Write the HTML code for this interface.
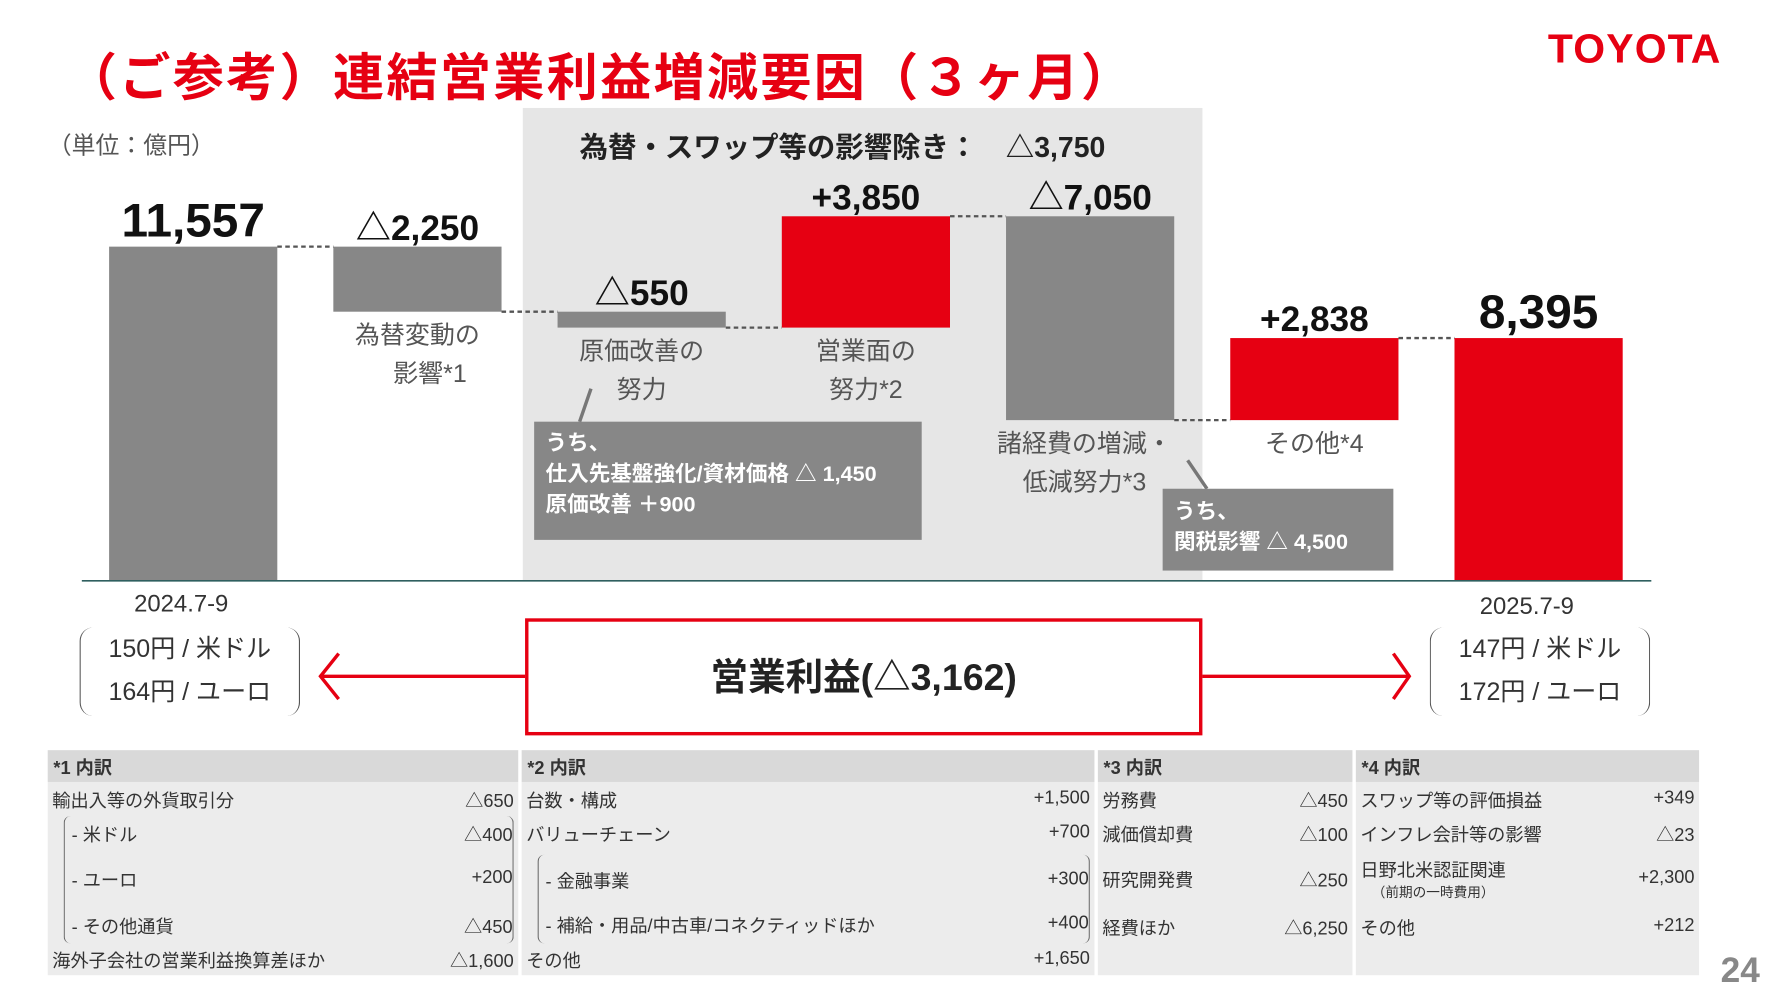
<!DOCTYPE html>
<html><head><meta charset="utf-8">
<style>
html,body{margin:0;padding:0;background:#fff;width:1782px;height:1002px;overflow:hidden}
#wrap{position:absolute;left:0;top:0;width:1560px;height:880px;transform:scale(1.1365,1.1366);transform-origin:0 0;font-family:"Liberation Sans","Noto Sans CJK JP",sans-serif}
.abs{position:absolute;white-space:nowrap}
table{border-collapse:separate;border-spacing:3px 0;font-size:16px;color:#333}
.r{display:flex;justify-content:space-between;align-items:center}
</style></head><body>
<div id="wrap">
<div class="abs" style="left:58px;top:32px;font-size:45px;font-weight:bold;color:#e60012;letter-spacing:2px">（ご参考）連結営業利益増減要因（３ヶ月）</div>
<div class="abs" style="left:1362px;top:22px;font-size:36px;font-weight:bold;color:#e60012;letter-spacing:1px">TOYOTA</div>
<div class="abs" style="left:460px;top:95px;width:598px;height:416px;background:#e6e6e6"></div>
<div class="abs" style="left:42px;top:112px;font-size:21px;color:#555">（単位：億円）</div>
<div class="abs" style="left:510px;top:110px;font-size:25px;font-weight:bold;color:#222">為替・スワップ等の影響除き：　△3,750</div>
<svg id="chart" class="abs" style="left:0;top:0" width="1560" height="880"></svg>
<div class="abs" style="left:470px;top:371px;width:331px;height:94px;background:#878787;color:#fff;font-size:19px;line-height:27px;padding:6px 0 4px 10px;font-weight:bold">うち、<br>仕入先基盤強化/資材価格 △ 1,450<br>原価改善 ＋900</div>
<div class="abs" style="left:1023px;top:430px;width:193px;height:62px;background:#878787;color:#fff;font-size:19px;line-height:27px;padding:7px 0 3px 10px;font-weight:bold">うち、<br>関税影響 △ 4,500</div>
<div class="abs" style="left:118px;top:520px;font-size:21px;color:#333">2024.7-9</div>
<div class="abs" style="left:70px;top:552px;width:192px;height:78px;border-left:1.5px solid #555;border-right:1.5px solid #555;border-radius:12px;font-size:22px;line-height:38px;color:#333;text-align:center">150円 / 米ドル<br>164円 / ユーロ</div>
<div class="abs" style="left:1302px;top:522px;font-size:21px;color:#333">2025.7-9</div>
<div class="abs" style="left:1258px;top:552px;width:192px;height:78px;border-left:1.5px solid #555;border-right:1.5px solid #555;border-radius:12px;font-size:22px;line-height:38px;color:#333;text-align:center">147円 / 米ドル<br>172円 / ユーロ</div>
<div class="abs" style="left:462px;top:544px;width:590px;height:97px;border:3px solid #e60012;font-size:33px;font-weight:bold;color:#222;text-align:center;line-height:97px">営業利益(△3,162)</div>
<svg class="abs" style="left:0;top:0" width="1560" height="660">
<g stroke="#e60012" stroke-width="3" fill="none">
<line x1="462" y1="595" x2="282" y2="595"/><polyline points="298,575 282,595 298,615"/>
<line x1="1058" y1="595" x2="1240" y2="595"/><polyline points="1226,575 1240,595 1226,615"/></g></svg>
<div class="abs" style="left:39px;top:660px">
<table>
<tr style="background:#d9d9d9;font-weight:bold;height:28px"><td style="width:408px;padding-left:5px">*1 内訳</td><td style="width:498px;padding-left:5px">*2 内訳</td><td style="width:218px;padding-left:5px">*3 内訳</td><td style="width:296px;padding-left:5px">*4 内訳</td></tr>
<tr style="background:#ececec"><td style="padding:0 4px">
<div class="r" style="height:30px"><span>輸出入等の外貨取引分</span><span>△650</span></div>
<div style="border-left:1px solid #666;border-right:1px solid #666;margin-left:10px;border-radius:6px">
<div class="r" style="height:30px;padding-left:6px"><span>- 米ドル</span><span>△400</span></div>
<div class="r" style="height:50px;padding-left:6px"><span>- ユーロ</span><span>+200</span></div>
<div class="r" style="height:32px;padding-left:6px"><span>- その他通貨</span><span>△450</span></div></div>
<div class="r" style="height:28px"><span>海外子会社の営業利益換算差ほか</span><span>△1,600</span></div></td>
<td style="padding:0 4px;vertical-align:top">
<div class="r" style="height:30px"><span>台数・構成</span><span>+1,500</span></div>
<div class="r" style="height:30px"><span>バリューチェーン</span><span>+700</span></div>
<div style="border-left:1px solid #666;border-right:1px solid #666;margin-left:10px;border-radius:6px;margin-top:4px">
<div class="r" style="height:44px;padding-left:6px"><span>- 金融事業</span><span>+300</span></div>
<div class="r" style="height:34px;padding-left:6px"><span>- 補給・用品/中古車/コネクティッドほか</span><span>+400</span></div></div>
<div class="r" style="height:28px"><span>その他</span><span>+1,650</span></div></td>
<td style="padding:0 4px;vertical-align:top">
<div class="r" style="height:30px"><span>労務費</span><span>△450</span></div>
<div class="r" style="height:30px"><span>減価償却費</span><span>△100</span></div>
<div class="r" style="height:50px"><span>研究開発費</span><span>△250</span></div>
<div class="r" style="height:34px"><span>経費ほか</span><span>△6,250</span></div></td>
<td style="padding:0 4px;vertical-align:top">
<div class="r" style="height:30px"><span>スワップ等の評価損益</span><span>+349</span></div>
<div class="r" style="height:30px"><span>インフレ会計等の影響</span><span>△23</span></div>
<div class="r" style="height:50px"><span>日野北米認証関連<br><span style="font-size:12px;padding-left:10px">（前期の一時費用）</span></span><span>+2,300</span></div>
<div class="r" style="height:34px"><span>その他</span><span>+212</span></div></td></tr>
</table></div>
<div class="abs" style="left:1514px;top:836px;font-size:31px;font-weight:bold;color:#888">24</div>
</div>
<script>
const categories=["2024.7-9","為替変動の影響","原価改善の努力","営業面の努力","諸経費の増減・低減努力","その他","2025.7-9"];
const deltas=[11557,-2250,-550,3850,-7050,2838,8395];
const isTotal=[true,false,false,false,false,false,true];
const valueLabels=["11,557","△2,250","△550","+3,850","△7,050","+2,838","8,395"];
const catLines=[[],["為替変動の","　影響*1"],["原価改善の","努力"],["営業面の","努力*2"],["諸経費の増減・","低減努力*3"],["その他*4"],[]];
const NS="http://www.w3.org/2000/svg";
const svg=document.getElementById('chart');
const base=511,k=294/11557,x0=96,step=197.3,bw=148;
const y=v=>base-v*k;
const xb=i=>x0+i*step;
function mk(t,a){const e=document.createElementNS(NS,t);for(const n in a)e.setAttribute(n,a[n]);svg.appendChild(e);return e;}
let run=0;
deltas.forEach((d,i)=>{
  let lo,hi,level;
  if(isTotal[i]){lo=0;hi=d;level=d;}else{lo=Math.min(run,run+d);hi=Math.max(run,run+d);level=run+d;}
  const red=isTotal[i]?i>0:d>0;
  const r=mk('rect',{x:xb(i),y:y(hi),width:bw,height:y(lo)-y(hi),fill:red?'#e60012':'#878787'});
  
  
  if(i>0){const ln=mk('line',{x1:xb(i-1)+bw,x2:xb(i),y1:y(run),y2:y(run),stroke:'#555','stroke-width':2,'stroke-dasharray':'4 3'});
    
    }
  const big=isTotal[i];
  const t=mk('text',{x:xb(i)+bw/2,y:y(hi)-(big?9:6),'text-anchor':'middle','font-size':big?42:31,'font-weight':'bold',fill:'#111'});
  t.textContent=valueLabels[i];
  
  
  catLines[i].forEach((s,j)=>{
    const c=mk('text',{x:xb(i)+bw/2+(i==4?-5:0),y:y(lo)+28+j*34,'text-anchor':'middle','font-size':22,fill:'#555'});
    c.textContent=s;
    
    
  });
  run=level;
});
const ax=mk('line',{x1:72,x2:1453,y1:base,y2:base,stroke:'#2f5f5f','stroke-width':1.5});


const l1=mk('line',{x1:520,y1:342,x2:510,y2:371,stroke:'#777','stroke-width':3});


const l2=mk('line',{x1:1045,y1:405,x2:1062,y2:430,stroke:'#777','stroke-width':3});


</script>
</body></html>
